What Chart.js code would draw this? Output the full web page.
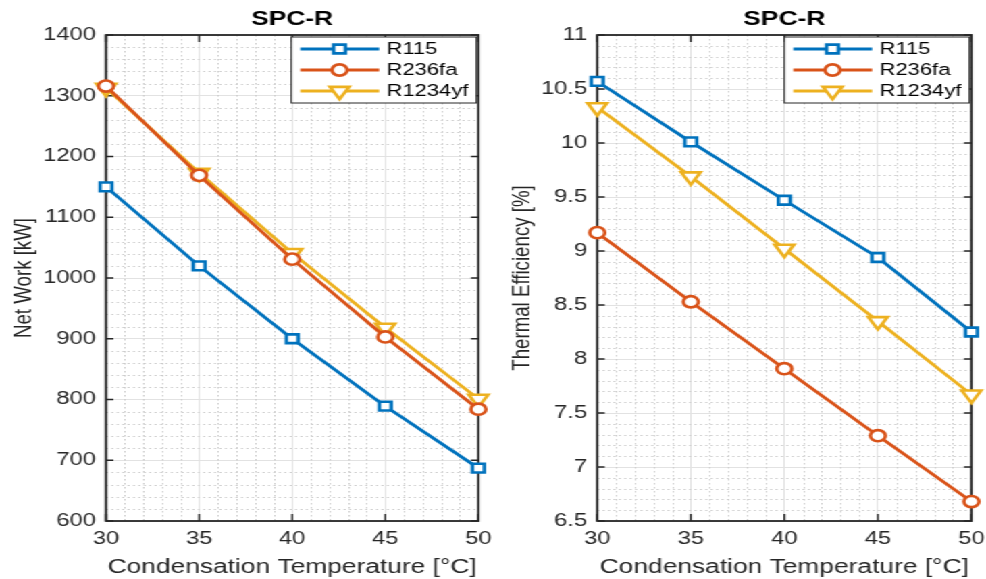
<!DOCTYPE html>
<html>
<head>
<meta charset="utf-8">
<title>SPC-R</title>
<script src="https://cdn.jsdelivr.net/npm/chart.js@4.4.1/dist/chart.umd.min.js"></script>
<style>
    html, body { margin: 0; padding: 0; background: #fff; overflow: hidden; }
    /* the source image is stretched horizontally, so draw narrow and scale the stage */
    #stage { position: absolute; left: 0; top: 0; width: 730px; height: 579px;
             transform: scaleX(1.3507); transform-origin: 0 0; }
    .panel { position: absolute; top: 0; width: 365px; height: 579px; }
    #leftPanel { left: 0; }
    #rightPanel { left: 365px; }
</style>
</head>
<body>
<div id="stage">
    <div class="panel" id="leftPanel"><canvas id="workChart"></canvas></div>
    <div class="panel" id="rightPanel"><canvas id="effChart"></canvas></div>
</div>
<script>
// --- data ---
const temps = [30, 35, 40, 45, 50];
const seriesNames = ['R115', 'R236fa', 'R1234yf'];

const netWorkR115 = [1150, 1020, 900, 789, 687];
const netWorkR236fa = [1316, 1169, 1031, 903, 784];
const netWorkR1234yf = [1313, 1173, 1041, 918, 801];

const effR115 = [10.57, 10.01, 9.47, 8.94, 8.25];
const effR236fa = [9.17, 8.53, 7.91, 7.29, 6.68];
const effR1234yf = [10.33, 9.69, 9.02, 8.35, 7.67];

const tempTicks = [30, 35, 40, 45, 50];
const workTicks = [600, 700, 800, 900, 1000, 1100, 1200, 1300, 1400];
const effTicks = [6.5, 7, 7.5, 8, 8.5, 9, 9.5, 10, 10.5, 11];

const panelTitle = 'SPC-R';
const xLabel = 'Condensation Temperature [°C]';

// MATLAB default look
const COLORS = ['#0072BD', '#D95319', '#EDB120'];
const MARKERS = [
    { style: 'rect', radius: 6.2, rotation: 0 },
    { style: 'circle', radius: 5.6, rotation: 0 },
    { style: 'triangle', radius: 8.2, rotation: 180 },
];
const AXIS_COLOR = '#262626';
const FONT = '"Liberation Sans", Arial, Helvetica, sans-serif';

function makeDatasets(seriesValues) {
    return seriesValues.map((vals, i) => ({
        label: seriesNames[i],
        data: temps.map((t, k) => ({ x: t, y: vals[k] })),
        borderColor: COLORS[i],
        backgroundColor: '#ffffff',
        borderWidth: 2.8,
        pointStyle: MARKERS[i].style,
        pointRadius: MARKERS[i].radius,
        pointRotation: MARKERS[i].rotation,
        pointBorderWidth: 2.6,
        pointBackgroundColor: '#ffffff',
        pointBorderColor: COLORS[i],
        tension: 0,
        clip: false,
    }));
}

// minor grid, box, inward ticks, title and boxed legend
const matlabAxes = {
    id: 'matlabAxes',
    beforeDatasetsDraw(chart, args, opts) {
        const { ctx, chartArea: a, scales: { x, y } } = chart;
        ctx.save();

        // dotted minor grid
        ctx.strokeStyle = '#cccccc';
        ctx.lineWidth = 1;
        ctx.setLineDash([1.5, 2.5]);
        ctx.beginPath();
        const nx = Math.round((x.max - x.min) / opts.xMinor);
        for (let i = 1; i < nx; i++) {
            const v = x.min + i * opts.xMinor;
            if (Math.abs(v / opts.xMajor - Math.round(v / opts.xMajor)) < 1e-6) continue;
            const px = Math.round(x.getPixelForValue(v)) + 0.5;
            ctx.moveTo(px, a.top);
            ctx.lineTo(px, a.bottom);
        }
        const ny = Math.round((y.max - y.min) / opts.yMinor);
        for (let i = 1; i < ny; i++) {
            const v = y.min + i * opts.yMinor;
            if (Math.abs(v / opts.yMajor - Math.round(v / opts.yMajor)) < 1e-6) continue;
            const py = Math.round(y.getPixelForValue(v)) + 0.5;
            ctx.moveTo(a.left, py);
            ctx.lineTo(a.right, py);
        }
        ctx.stroke();
        ctx.setLineDash([]);

        // axes box
        ctx.strokeStyle = AXIS_COLOR;
        ctx.lineWidth = 1.8;
        ctx.strokeRect(a.left, a.top, a.width, a.height);

        // inward ticks on all sides
        ctx.lineWidth = 1.4;
        ctx.beginPath();
        x.ticks.forEach(t => {
            const px = x.getPixelForValue(t.value);
            ctx.moveTo(px, a.bottom); ctx.lineTo(px, a.bottom - 7);
            ctx.moveTo(px, a.top); ctx.lineTo(px, a.top + 7);
        });
        y.ticks.forEach(t => {
            const py = y.getPixelForValue(t.value);
            ctx.moveTo(a.left, py); ctx.lineTo(a.left + 5.5, py);
            ctx.moveTo(a.right, py); ctx.lineTo(a.right - 5.5, py);
        });
        ctx.stroke();
        ctx.restore();
    },
    afterDatasetsDraw(chart) {
        const { ctx, chartArea: a } = chart;
        ctx.save();

        // title
        ctx.fillStyle = '#000';
        ctx.font = 'bold 19.5px ' + FONT;
        ctx.textAlign = 'center';
        ctx.textBaseline = 'middle';
        ctx.fillText(panelTitle, (a.left + a.right) / 2, 20);

        // legend
        const w = 137, h = 66;
        const left = a.right - 1.5 - w, top = a.top + 2;
        ctx.fillStyle = '#fff';
        ctx.fillRect(left, top, w, h);
        ctx.strokeStyle = AXIS_COLOR;
        ctx.lineWidth = 1;
        ctx.strokeRect(left, top, w, h);
        ctx.font = '16.3px ' + FONT;
        ctx.textAlign = 'left';
        chart.data.datasets.forEach((ds, i) => {
            const yy = top + 12 + i * 21;
            ctx.strokeStyle = ds.borderColor;
            ctx.lineWidth = 2.8;
            ctx.beginPath();
            ctx.moveTo(left + 6.7, yy);
            ctx.lineTo(left + 65, yy);
            ctx.stroke();
            ctx.fillStyle = '#fff';
            ctx.lineWidth = 2.6;
            Chart.helpers.drawPoint(ctx, {
                pointStyle: ds.pointStyle,
                radius: ds.pointRadius,
                rotation: ds.pointRotation,
                borderWidth: 2.6,
            }, left + 35.7, yy);
            ctx.fillStyle = '#000';
            ctx.fillText(ds.label, left + 70.5, yy + 1);
        });
        ctx.restore();
    },
};

function buildChart(canvasId, seriesValues, yTicks, yLabel, opts) {
    const ctx = document.getElementById(canvasId).getContext('2d');
    return new Chart(ctx, {
        type: 'line',
        data: { datasets: makeDatasets(seriesValues) },
        options: {
            responsive: true,
            maintainAspectRatio: false,
            animation: false,
            layout: { padding: { left: 0, right: opts.padRight, top: 35, bottom: 0 } },
            plugins: {
                legend: { display: false },
                title: { display: false },
                tooltip: { enabled: false },
                matlabAxes: { xMajor: 5, xMinor: 1, yMajor: opts.yMajor, yMinor: opts.yMinor },
            },
            scales: {
                x: {
                    type: 'linear',
                    min: tempTicks[0],
                    max: tempTicks[tempTicks.length - 1],
                    afterBuildTicks: s => { s.ticks = tempTicks.map(v => ({ value: v })); },
                    afterFit: s => { s.height = 58; s.paddingLeft = 0; s.paddingRight = 0; },
                    ticks: {
                        padding: 8,
                        color: AXIS_COLOR,
                        font: { family: FONT, size: 17.5 },
                        maxRotation: 0,
                        callback: v => String(v),
                    },
                    grid: { color: '#e2e2e2', lineWidth: 1, drawTicks: false },
                    border: { display: false },
                    title: {
                        display: true,
                        text: xLabel,
                        color: AXIS_COLOR,
                        font: { family: FONT, size: 19.5 },
                        padding: { top: 0, bottom: 0 },
                    },
                },
                y: {
                    type: 'linear',
                    min: yTicks[0],
                    max: yTicks[yTicks.length - 1],
                    afterBuildTicks: s => { s.ticks = yTicks.map(v => ({ value: v })); },
                    afterFit: s => { s.width = opts.yWidth; },
                    ticks: {
                        padding: 7.5,
                        color: AXIS_COLOR,
                        font: { family: FONT, size: 17.5 },
                        callback: v => String(v),
                    },
                    grid: { color: '#e2e2e2', lineWidth: 1, drawTicks: false },
                    border: { display: false },
                    title: {
                        display: true,
                        text: yLabel,
                        color: AXIS_COLOR,
                        font: { family: FONT, size: 18.7 },
                        padding: { top: opts.titlePad, bottom: 0 },
                    },
                },
            },
        },
        plugins: [matlabAxes],
    });
}

buildChart('workChart', [netWorkR115, netWorkR236fa, netWorkR1234yf], workTicks, 'Net Work [kW]',
    { padRight: 10.2, yWidth: 78.5, titlePad: 6.6, yMajor: 100, yMinor: 20 });
buildChart('effChart', [effR115, effR236fa, effR1234yf], effTicks, 'Thermal Efficiency [%]',
    { padRight: 9.3, yWidth: 77.2, titlePad: 10.5, yMajor: 0.5, yMinor: 0.1 });
</script>
</body>
</html>
